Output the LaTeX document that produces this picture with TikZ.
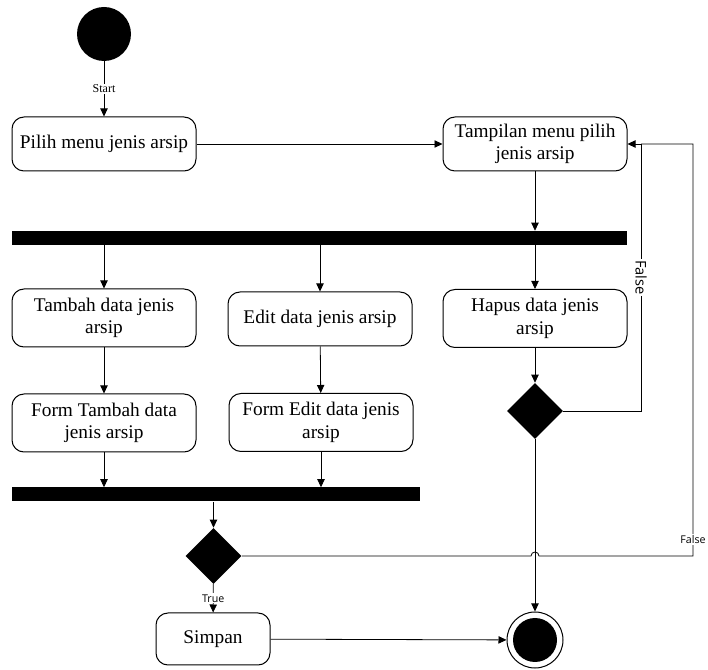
\documentclass[tikz,border=0pt]{standalone}
\usepackage{fontspec}
\setmainfont{Liberation Serif}
\newfontfamily\guardfont{Open Sans}
\usetikzlibrary{arrows.meta,calc,shapes.geometric}
\tikzset{
    activity/.style={draw,line width=0.75pt,rounded corners=9pt,align=center,minimum width=138pt,minimum height=40.5pt,inner sep=2pt,font=\fontsize{14.5}{17}\selectfont},
    syncbar/.style={fill=black,draw=none,minimum height=10.5pt,inner sep=0pt},
    decision/.style={diamond,fill=black,draw=none,minimum size=42pt,inner sep=0pt},
    startdot/.style={circle,fill=black,minimum size=40.5pt,inner sep=0pt},
    finalring/.style={circle,draw,line width=0.75pt,minimum size=42pt,inner sep=0pt},
    finaldot/.style={circle,fill=black,minimum size=33pt,inner sep=0pt},
    flow/.style={-{Triangle[length=6pt,width=5.5pt]},line width=0.6pt},
    startlbl/.style={fill=white,inner sep=1pt,font=\fontsize{9}{10}\selectfont},
    guard/.style={fill=white,inner sep=1pt,font=\guardfont\fontsize{8}{9}\selectfont}
}

\begin{document}
\begin{tikzpicture}[x=0.75pt,y=-0.75pt]
    \useasboundingbox (0,0) rectangle (708,670);
    % Nodes
    \node[startdot] (start) at (104,34) {};
    \node[activity] (pilih) at (104,144) {Pilih menu jenis arsip};
    \node[activity] (tampil) at (535,144) {Tampilan menu pilih\\jenis arsip};
    \node[syncbar,minimum width=461pt] (fork) at (319.5,238) {};
    \node[activity,minimum height=43.5pt] (tambah) at (104,318) {Tambah data jenis\\arsip};
    \node[activity] (edit) at (320,319) {Edit data jenis arsip};
    \node[activity,minimum height=43.5pt] (hapus) at (535,318.5) {Hapus data jenis\\arsip};
    \node[decision] (cekHapus) at (535,411) {};
    \node[activity,minimum height=43.5pt] (formTambah) at (104,423) {Form Tambah data\\jenis arsip};
    \node[activity,minimum height=43.5pt] (formEdit) at (321,422.5) {Form Edit data jenis\\arsip};
    \node[syncbar,minimum width=306pt] (join) at (216,494.5) {};
    \node[decision] (cekSimpan) at (213.5,556) {};
    \node[activity,minimum width=85.5pt,minimum height=39pt] (simpan) at (213,639) {Simpan};
    \node[finalring] (selesai) at (535,640) {};
    \node[finaldot] (selesaiDot) at (selesai) {};
    \coordinate (balik) at (641,144);
    \coordinate (sudut) at (693,144);
    % Flows
    \draw[flow] (start) -- node[startlbl] {Start} (pilih);
    \draw[flow] (pilih) -- (tampil);
    \draw[flow] (tampil) -- (tampil |- fork.north);
    \foreach \b in {tambah,edit,hapus}
        \draw[flow] (fork.south -| \b) -- (\b);
    \draw[flow] (tambah) -- (formTambah);
    \draw[flow] (edit) -- (formEdit);
    \draw[flow] (hapus) -- (cekHapus);
    \draw[flow] (formTambah) -- (formTambah |- join.north);
    \draw[flow] (formEdit) -- (formEdit |- join.north);
    \draw[flow] (cekSimpan |- join.south) -- (cekSimpan);
    % Guards
    \draw[flow] (cekHapus.east) -- (cekHapus.east -| balik) -- node[guard,rotate=-90,font=\guardfont\fontsize{11}{12}\selectfont] {False} (balik) -- (tampil.east);
    \draw[line width=0.6pt] (cekSimpan.east) -- ($(cekSimpan.east -| selesai)+(-4,0)$) arc[start angle=180,end angle=0,radius=3pt] -- (cekSimpan.east -| sudut) -- node[guard,pos=0.04] {False} (sudut) -- (balik);
    \draw[flow] (cekHapus) -- (selesai);
    \draw[flow] (cekSimpan) -- node[guard] {True} (simpan);
    \draw[flow] (simpan) -- (selesai);
\end{tikzpicture}
\end{document}
